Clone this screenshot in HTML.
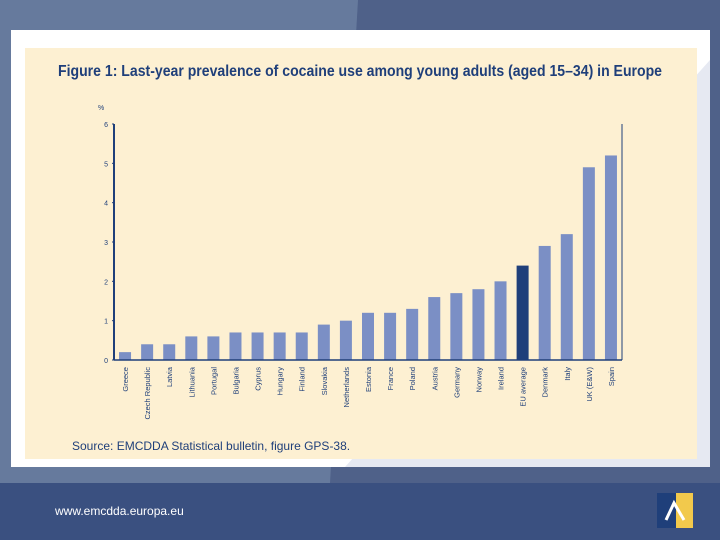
<!DOCTYPE html>
<html><head><meta charset="utf-8"><style>
body{margin:0;width:720px;height:540px;overflow:hidden;font-family:"Liberation Sans",sans-serif;background:#506289;position:relative}
</style></head><body>
<svg width="720" height="540" style="position:absolute;left:0;top:0">
<rect width="720" height="540" fill="#4f6189"/>
<polygon points="0,0 358,0 330,483 0,483" fill="#667a9d"/>
<rect x="0" y="483" width="720" height="57" fill="#3a5080"/>
<rect x="11" y="30" width="699" height="437" fill="#ffffff"/>
<polygon points="345,467 710,467 710,60" fill="#e6e9f2"/>
<rect x="25" y="48" width="672" height="411" fill="#fdf0d2"/>
<text x="58" y="76" font-size="15.5" font-weight="bold" fill="#1f3f7a" textLength="604" lengthAdjust="spacingAndGlyphs">Figure 1: Last-year prevalence of cocaine use among young adults (aged 15–34) in Europe</text>
<text x="98" y="110" font-size="7" fill="#1f3f7a">%</text>
<g id="chart"></g>
<text x="72" y="450" font-size="12" fill="#1f3f7a">Source: EMCDDA Statistical bulletin, figure GPS-38.</text>
<text x="55" y="515" font-size="12" fill="#ffffff">www.emcdda.europa.eu</text>
<g><rect x="657" y="493" width="19" height="35" fill="#1f3f7a"/><rect x="676" y="493" width="17" height="35" fill="#f2c94c"/><path d="M666,520 L674,503 L684,520" stroke="#fff" stroke-width="3" fill="none"/></g>
</svg>
<script>
const categories=["Greece","Czech Republic","Latvia","Lithuania","Portugal","Bulgaria","Cyprus","Hungary","Finland","Slovakia","Netherlands","Estonia","France","Poland","Austria","Germany","Norway","Ireland","EU average","Denmark","Italy","UK (E&W)","Spain"];
const values=[0.2,0.4,0.4,0.6,0.6,0.7,0.7,0.7,0.7,0.9,1.0,1.2,1.2,1.3,1.6,1.7,1.8,2.0,2.4,2.9,3.2,4.9,5.2];
const yTicks=[0,1,2,3,4,5,6];
const highlight="EU average";
const NS="http://www.w3.org/2000/svg";
const g=document.getElementById('chart');
const x0=114,x1=622,yBase=360,yTop=124,yMax=6;
const y=v=>yBase-(yBase-yTop)*v/yMax;
const step=(x1-x0)/categories.length;
const xc=i=>x0+step*(i+0.5);
function mk(t,a){const e=document.createElementNS(NS,t);for(const k in a)e.setAttribute(k,a[k]);g.appendChild(e);return e;}
yTicks.forEach(t=>{
 const l=mk('text',{x:x0-6,y:y(t)+3,'font-size':7,fill:'#1f3f7a','text-anchor':'end'});l.textContent=t;
 
 
 mk('line',{x1:x0-2,x2:x0,y1:y(t),y2:y(t),stroke:'#1f3f7a','stroke-width':1});
});
categories.forEach((c,i)=>{
 const b=mk('rect',{x:xc(i)-6,y:y(values[i]),width:12,height:yBase-y(values[i]),fill:c===highlight?'#1f3f7a':'#7b8fc5'});
 
 
 const lx=xc(i)+3,ly=367;
 const t=mk('text',{x:lx,y:ly,'font-size':7.5,fill:'#1f3f7a','text-anchor':'end',transform:`rotate(-90 ${lx} ${ly})`});
 t.textContent=c;
 
 
});
const ax=mk('line',{x1:x0,x2:x0,y1:yTop,y2:yBase,stroke:'#1f3f7a','stroke-width':2});


const bx=mk('line',{x1:x0,x2:x1,y1:yBase,y2:yBase,stroke:'#1f3f7a','stroke-width':1.5});


const rx=mk('line',{x1:x1,x2:x1,y1:yTop,y2:yBase,stroke:'#1f3f7a','stroke-width':1});


</script>
</body></html>
